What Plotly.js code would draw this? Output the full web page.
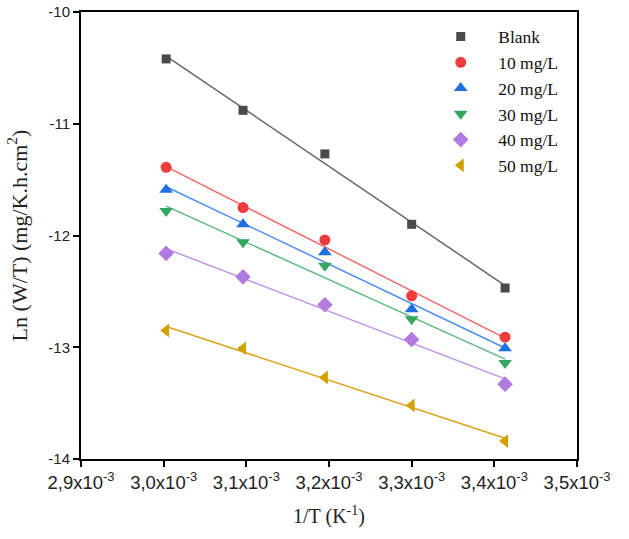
<!DOCTYPE html>
<html>
<head>
<meta charset="utf-8">
<script src="https://cdn.plot.ly/plotly-3.0.1.min.js"></script>
<style>html,body{margin:0;padding:0;background:#fff;}#chart{width:629px;height:539px;}</style>
</head>
<body>
<div id="chart"></div>
<script>
var invT = [0.003003, 0.003096, 0.003195, 0.003300, 0.003413];
var seriesNames = ["Blank", "10 mg/L", "20 mg/L", "30 mg/L", "40 mg/L", "50 mg/L"];
var blank = [-10.42, -10.88, -11.27, -11.90, -12.47];
var c10 = [-11.39, -11.75, -12.04, -12.54, -12.91];
var c20 = [-11.59, -11.90, -12.15, -12.66, -13.01];
var c30 = [-11.78, -12.06, -12.27, -12.75, -13.14];
var c40 = [-12.16, -12.37, -12.62, -12.93, -13.33];
var c50 = [-12.85, -13.01, -13.27, -13.52, -13.84];
var xTickVals = [0.0029, 0.0030, 0.0031, 0.0032, 0.0033, 0.0034, 0.0035];
var xTickText = ["2,9x10<sup>-3</sup>", "3,0x10<sup>-3</sup>", "3,1x10<sup>-3</sup>", "3,2x10<sup>-3</sup>", "3,3x10<sup>-3</sup>", "3,4x10<sup>-3</sup>", "3,5x10<sup>-3</sup>"];
var yTickVals = [-14, -13, -12, -11, -10];
var yTickText = ["-14", "-13", "-12", "-11", "-10"];

var allY = [blank, c10, c20, c30, c40, c50];
var markerColors = ["#4a4a4a", "#ee3b3b", "#1e6fe0", "#35a660", "#b07ae0", "#d4a000"];
var lineColors = ["#666666", "#f06a6a", "#4d8eee", "#5cba80", "#c391ea", "#d9a520"];
var symbols = ["square", "circle", "triangle-up", "triangle-down", "diamond", "triangle-left"];
var sizes = [9, 11, 12, 12, 12, 12];

function fit(x, y) {
  var n = x.length, sx = 0, sy = 0, sxx = 0, sxy = 0;
  for (var i = 0; i < n; i++) { sx += x[i]; sy += y[i]; sxx += x[i]*x[i]; sxy += x[i]*y[i]; }
  var b = (n*sxy - sx*sy) / (n*sxx - sx*sx);
  var a = (sy - b*sx) / n;
  return [a, b];
}

var traces = [];
var xEnds = [invT[0], invT[invT.length-1]];
allY.forEach(function(y, i) {
  var ab = fit(invT, y);
  traces.push({
    x: xEnds, y: xEnds.map(function(v){ return ab[0] + ab[1]*v; }),
    mode: "lines", type: "scatter", showlegend: false, hoverinfo: "skip",
    line: {color: lineColors[i], width: 1.5}
  });
});
allY.forEach(function(y, i) {
  traces.push({
    x: invT, y: y, name: seriesNames[i], mode: "markers", type: "scatter",
    marker: {symbol: symbols[i], size: sizes[i], color: markerColors[i]}
  });
});

var serif = "Liberation Serif, Times New Roman, serif";
var sans = "Arimo, Liberation Sans, sans-serif";
var layout = {
  width: 629, height: 539,
  font: {family: sans, size: 16, color: "#222"},
  margin: {l: 81, r: 52, t: 12, b: 80},
  paper_bgcolor: "#ffffff", plot_bgcolor: "#ffffff",
  showlegend: true,
  legend: {x: 0.69, y: 0.985, xanchor: "left", yanchor: "top", bgcolor: "rgba(0,0,0,0)",
    font: {family: serif, size: 17.5, color: "#111"},
    tracegroupgap: 0, itemwidth: 65},
  xaxis: {
    range: [0.0029, 0.0035], tickmode: "array", tickvals: xTickVals, ticktext: xTickText,
    showgrid: false, zeroline: false, showline: true, linecolor: "#000", linewidth: 2,
    mirror: true, ticks: "outside", ticklen: 6, tickwidth: 2, tickcolor: "#000",
    tickfont: {family: sans, size: 18.5, color: "#222"},
    automargin: false, tickangle: 0,
    title: {text: "1/T (K<sup>-1</sup>)", standoff: 17,
      font: {family: serif, size: 20, color: "#222"}}
  },
  yaxis: {
    range: [-14, -10], tickmode: "array", tickvals: yTickVals, ticktext: yTickText,
    showgrid: false, zeroline: false, showline: true, linecolor: "#000", linewidth: 2,
    mirror: true, ticks: "outside", ticklen: 6, tickwidth: 2, tickcolor: "#000",
    tickfont: {family: sans, size: 15, color: "#222"},
    automargin: false,
    title: {text: "Ln (W/T) (mg/K.h.cm<sup>2</sup>)", standoff: 15,
      font: {family: serif, size: 22, color: "#222"}}
  }
};

Plotly.newPlot("chart", traces, layout, {displayModeBar: false, staticPlot: true});
</script>
</body>
</html>
